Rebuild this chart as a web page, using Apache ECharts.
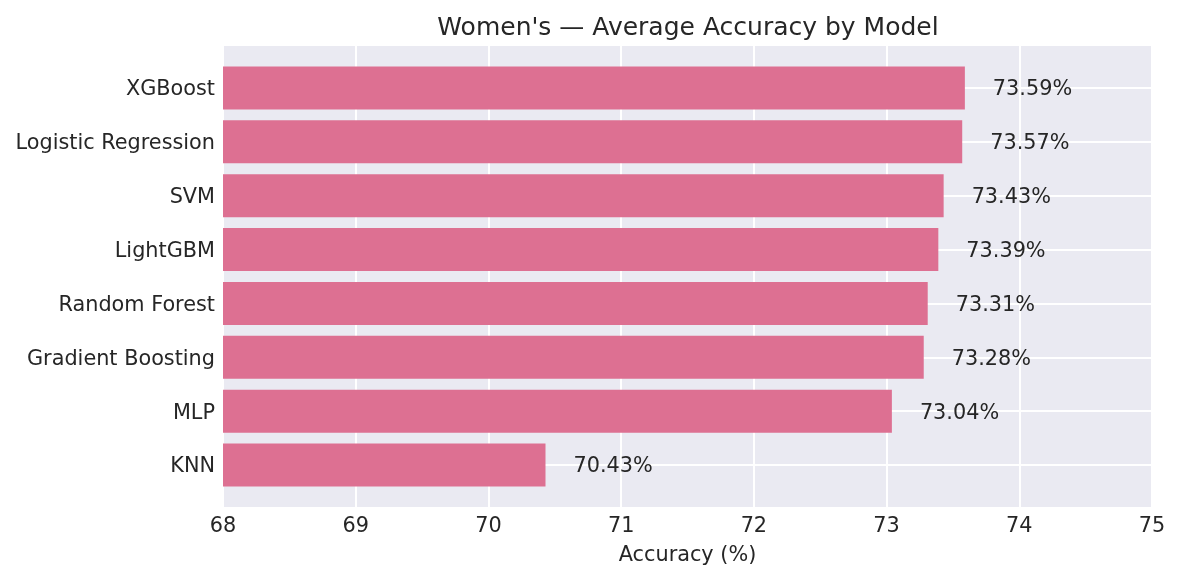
<!DOCTYPE html>
<html><head><meta charset="utf-8">
<script src="https://cdn.jsdelivr.net/npm/echarts@6/dist/echarts.min.js"></script>
<style>html,body{margin:0;padding:0;background:#fff}#c{width:1180px;height:579px}</style>
</head><body><div id="c"></div>
<script>
const categories = ['XGBoost','Logistic Regression','SVM','LightGBM','Random Forest','Gradient Boosting','MLP','KNN'];
const accuracy = [73.59, 73.57, 73.43, 73.39, 73.31, 73.28, 73.04, 70.43];
const xTicks = [68, 69, 70, 71, 72, 73, 74, 75];

const font = 'DejaVu Sans';
const txt = '#262626';
const fs = 20.8;
const chart = echarts.init(document.getElementById('c'));
chart.setOption({
  animation: false,
  title: {text: "Women's — Average Accuracy by Model", left: 683, textAlign: 'center', top: 11,
    textStyle: {fontFamily: font, fontSize: 25, fontWeight: 'normal', color: txt}},
  grid: [
    {left: 223, right: 28, top: 46, bottom: 72, show: true, backgroundColor: '#EAEAF2', borderWidth: 0},
    {left: 223, right: 28, top: 61, bottom: 87}
  ],
  xAxis: [
    {gridIndex: 0, type: 'value', min: xTicks[0], max: xTicks[xTicks.length-1], interval: 1,
     axisLine: {show: false}, axisTick: {show: false},
     axisLabel: {fontFamily: font, fontSize: fs, color: txt, margin: 9},
     splitLine: {show: true, lineStyle: {color: '#fff', width: 2}},
     name: 'Accuracy (%)', nameLocation: 'middle', nameGap: 38,
     nameTextStyle: {fontFamily: font, fontSize: fs, color: txt}},
    {gridIndex: 1, type: 'value', min: xTicks[0], max: xTicks[xTicks.length-1], show: false,
     splitLine: {show: false}}
  ],
  yAxis: [
    {gridIndex: 0, type: 'value', show: false, splitLine: {show: false}},
    {gridIndex: 1, type: 'category', data: categories, inverse: true,
     axisLine: {show: false}, axisTick: {show: false},
     axisLabel: {fontFamily: font, fontSize: fs, color: txt, margin: 8, lineHeight: 4, verticalAlign: 'top'},
     splitLine: {show: true, alignWithLabel: true, lineStyle: {color: '#fff', width: 2}}}
  ],
  series: [{
    type: 'bar', xAxisIndex: 1, yAxisIndex: 1, data: accuracy,
    barCategoryGap: '20%',
    itemStyle: {color: '#DD7092'},
    label: {show: true, position: 'right', distance: 28, formatter: p => p.value.toFixed(2) + '%',
      fontFamily: font, fontSize: fs, color: txt, offset: [0, 2]}
  }]
});
</script></body></html>
